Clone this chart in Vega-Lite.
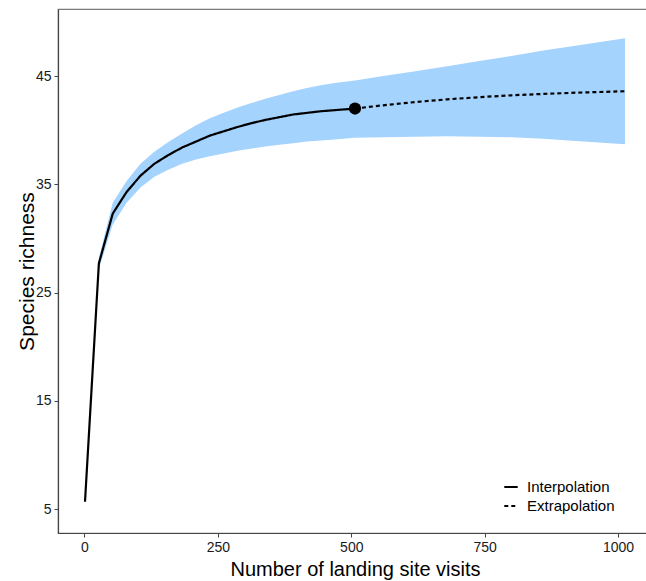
{
  "$schema": "https://vega.github.io/schema/vega-lite/v6.json",
  "width": 594,
  "height": 524,
  "autosize": {"type": "none"},
  "padding": {"left": 58, "top": 9, "right": 0, "bottom": 48},
  "background": "white",
  "config": {
    "font": "Liberation Sans",
    "view": {"stroke": "#7a7a7a", "strokeWidth": 1.2},
    "axis": {
      "grid": false,
      "domainColor": "#444444",
      "domainWidth": 1.2,
      "tickColor": "#444444",
      "tickSize": 4,
      "labelFontSize": 14,
      "labelColor": "#1a1a1a",
      "titleFontWeight": "normal",
      "titleColor": "#000000"
    }
  },
  "datasets": {
    "curve": [
      {"m": 1, "S": 5.7, "lo": 5.6, "hi": 5.8, "method": "Interpolation"},
      {"m": 27, "S": 27.7, "lo": 27.2, "hi": 28.2, "method": "Interpolation"},
      {"m": 53, "S": 32.3, "lo": 31.3, "hi": 33.3, "method": "Interpolation"},
      {"m": 79, "S": 34.3, "lo": 33.3, "hi": 35.3, "method": "Interpolation"},
      {"m": 105, "S": 35.8, "lo": 34.7, "hi": 36.9, "method": "Interpolation"},
      {"m": 131, "S": 36.9, "lo": 35.7, "hi": 38.0, "method": "Interpolation"},
      {"m": 157, "S": 37.7, "lo": 36.35, "hi": 38.9, "method": "Interpolation"},
      {"m": 183, "S": 38.4, "lo": 36.9, "hi": 39.7, "method": "Interpolation"},
      {"m": 209, "S": 38.95, "lo": 37.3, "hi": 40.45, "method": "Interpolation"},
      {"m": 235, "S": 39.5, "lo": 37.6, "hi": 41.1, "method": "Interpolation"},
      {"m": 261, "S": 39.9, "lo": 37.85, "hi": 41.6, "method": "Interpolation"},
      {"m": 287, "S": 40.3, "lo": 38.1, "hi": 42.1, "method": "Interpolation"},
      {"m": 313, "S": 40.65, "lo": 38.3, "hi": 42.5, "method": "Interpolation"},
      {"m": 339, "S": 40.95, "lo": 38.5, "hi": 42.9, "method": "Interpolation"},
      {"m": 365, "S": 41.2, "lo": 38.65, "hi": 43.25, "method": "Interpolation"},
      {"m": 391, "S": 41.45, "lo": 38.8, "hi": 43.6, "method": "Interpolation"},
      {"m": 417, "S": 41.6, "lo": 38.95, "hi": 43.9, "method": "Interpolation"},
      {"m": 443, "S": 41.75, "lo": 39.05, "hi": 44.15, "method": "Interpolation"},
      {"m": 469, "S": 41.85, "lo": 39.15, "hi": 44.35, "method": "Interpolation"},
      {"m": 507, "S": 42.0, "lo": 39.3, "hi": 44.6, "method": "Interpolation"},
      {"m": 507, "S": 42.0, "lo": 39.3, "hi": 44.6, "method": "Extrapolation"},
      {"m": 560, "S": 42.3, "lo": 39.35, "hi": 45.0, "method": "Extrapolation"},
      {"m": 620, "S": 42.6, "lo": 39.4, "hi": 45.45, "method": "Extrapolation"},
      {"m": 680, "S": 42.85, "lo": 39.45, "hi": 45.9, "method": "Extrapolation"},
      {"m": 740, "S": 43.05, "lo": 39.4, "hi": 46.4, "method": "Extrapolation"},
      {"m": 800, "S": 43.22, "lo": 39.35, "hi": 46.85, "method": "Extrapolation"},
      {"m": 860, "S": 43.35, "lo": 39.2, "hi": 47.35, "method": "Extrapolation"},
      {"m": 920, "S": 43.46, "lo": 39.0, "hi": 47.8, "method": "Extrapolation"},
      {"m": 1013, "S": 43.6, "lo": 38.7, "hi": 48.5, "method": "Extrapolation"}
    ],
    "obs": [
      {"m": 507, "S": 42.0}
    ]
  },
  "layer": [
    {
      "data": {"name": "curve"},
      "mark": {"type": "area", "fill": "#a4d3fe", "fillOpacity": 1, "interpolate": "linear"},
      "encoding": {
        "x": {
          "field": "m", "type": "quantitative",
          "scale": {"domain": [-49.6, 1063.6], "nice": false, "zero": false},
          "axis": {"values": [0, 250, 500, 750, 1000], "format": "d", "title": "Number of landing site visits", "titleFontSize": 20, "titleY": 36, "titleBaseline": "middle", "labelPadding": 3}
        },
        "y": {
          "field": "lo", "type": "quantitative",
          "scale": {"domain": [2.81, 51.19], "nice": false, "zero": false},
          "axis": {"values": [5, 15, 25, 35, 45], "title": "Species richness", "titleFontSize": 21, "titleX": -31, "titleY": 262, "titleAngle": -90, "titleBaseline": "middle", "titleAlign": "center", "labelPadding": 3}
        },
        "y2": {"field": "hi"}
      }
    },
    {
      "data": {"name": "curve"},
      "mark": {"type": "line", "color": "black", "strokeWidth": 2.2},
      "encoding": {
        "x": {"field": "m", "type": "quantitative"},
        "y": {"field": "S", "type": "quantitative"},
        "order": {"field": "m"},
        "strokeDash": {
          "field": "method", "type": "nominal",
          "scale": {"domain": ["Interpolation", "Extrapolation"], "range": [[1, 0], [4, 3]]},
          "legend": {
            "title": null,
            "orient": "none",
            "legendX": 445,
            "legendY": 470,
            "labelFontSize": 15,
            "labelColor": "#000000",
            "symbolType": "stroke",
            "symbolStrokeColor": "black",
            "symbolStrokeWidth": 2,
            "symbolSize": 180,
            "rowPadding": 3,
            "labelOffset": 8
          }
        }
      }
    },
    {
      "data": {"name": "obs"},
      "mark": {"type": "point", "filled": true, "color": "black", "size": 150, "opacity": 1},
      "encoding": {
        "x": {"field": "m", "type": "quantitative"},
        "y": {"field": "S", "type": "quantitative"}
      }
    }
  ]
}
